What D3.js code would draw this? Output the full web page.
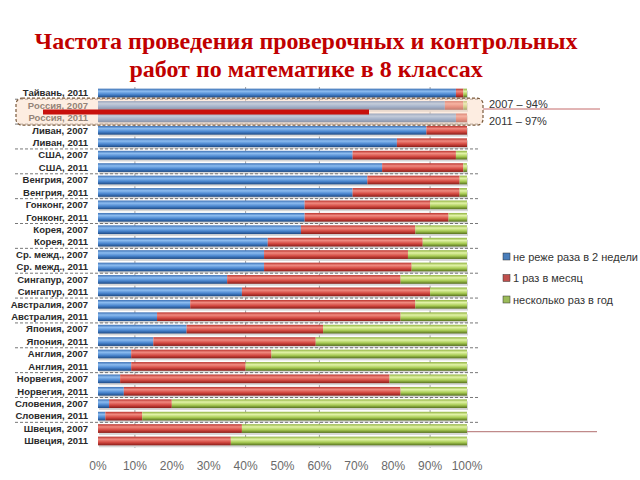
<!DOCTYPE html>
<html>
<head>
<meta charset="utf-8">
<script src="https://d3js.org/d3.v7.min.js"></script>
<style>
  body { margin: 0; background: #fff; }
  .cat text { font: bold 9.5px "Liberation Sans Narrow", "Arial Narrow", sans-serif; fill: #2a2a2a; }
  .xaxis text { font: 12px "Liberation Sans Narrow", "Arial Narrow", sans-serif; fill: #6a6a6a; }
  .legend text { font: 11px "Liberation Sans", Arial, sans-serif; fill: #333; }
</style>
</head>
<body>
<svg id="chart" width="640" height="480"></svg>
<script>
// rows, top to bottom
var labels = ["Тайвань, 2011", "Россия, 2007", "Россия, 2011", "Ливан, 2007", "Ливан, 2011",
  "США, 2007", "США, 2011", "Венгрия, 2007", "Венгрия, 2011", "Гонконг, 2007", "Гонконг, 2011",
  "Корея, 2007", "Корея, 2011", "Ср. межд., 2007", "Ср. межд., 2011", "Сингапур, 2007", "Сингапур, 2011",
  "Австралия, 2007", "Австралия, 2011", "Япония, 2007", "Япония, 2011", "Англия, 2007", "Англия, 2011",
  "Норвегия, 2007", "Норвегия, 2011", "Словения, 2007", "Словения, 2011", "Швеция, 2007", "Швеция, 2011"];

// не реже раза в 2 недели
var biweekly = [97, 94, 97, 89, 81, 69, 77, 73, 69, 56, 56, 55, 46, 45, 45, 35, 39, 25, 16, 24, 15, 9, 9, 6, 7, 3, 2, 0, 0];
// 1 раз в месяц
var monthly = [2, 5, 3, 11, 19, 28, 22, 25, 29, 34, 39, 31, 42, 39, 40, 47, 51, 61, 66, 37, 44, 38, 31, 73, 75, 17, 10, 39, 36];
// несколько раз в год
var yearly = [1, 1, 0, 0, 0, 3, 1, 2, 2, 10, 5, 14, 12, 16, 15, 18, 10, 14, 18, 39, 41, 53, 60, 21, 18, 80, 88, 61, 64];

var seriesNames = ["не реже раза в 2 недели", "1 раз в месяц", "несколько раз в год"];
var xTicks = [0, 10, 20, 30, 40, 50, 60, 70, 80, 90, 100];
var gridTicks = [10, 40, 60, 90];
var titleLines = ["Частота проведения проверочных и контрольных", "работ по математике в 8 классах"];
var russiaNotes = ["2007 – 94%", "2011 – 97%"];

var svg = d3.select("#chart");

var x = d3.scaleLinear().domain([0, 100]).range([98, 467]);
var y = d3.scaleBand().domain(labels).range([86.8, 447.2]).paddingInner(0.3).paddingOuter(0.15);

// gradients for the bar colours
var grads = [
  ["gBlue", "#3b6fb3", "#8cbcf0", "#4a86cf", "#1d4a85"],
  ["gRed", "#b8322c", "#f08a80", "#d44a42", "#8a1c18"],
  ["gGreen", "#8fb13e", "#e2f3a8", "#a9cc55", "#55701c"]
];
var defs = svg.append("defs");
grads.forEach(function(g) {
  var lg = defs.append("linearGradient").attr("id", g[0])
    .attr("x1", 0).attr("y1", 0).attr("x2", 0).attr("y2", 1);
  lg.append("stop").attr("offset", "0%").attr("stop-color", g[1]);
  lg.append("stop").attr("offset", "30%").attr("stop-color", g[2]);
  lg.append("stop").attr("offset", "65%").attr("stop-color", g[3]);
  lg.append("stop").attr("offset", "100%").attr("stop-color", g[4]);
});
var fills = ["url(#gBlue)", "url(#gRed)", "url(#gGreen)"];
var solid = ["#4a7ebb", "#c0504d", "#9bbb59"];

// title
svg.selectAll(".title").data(titleLines).enter().append("text")
  .attr("x", 306).attr("y", function(d, i) { return 49 + i * 28; })
  .attr("text-anchor", "middle")
  .style("font", "bold 24px 'Liberation Serif', 'Times New Roman', serif")
  .style("fill", "#c00000")
  .text(function(d) { return d; });

// grid lines
svg.append("g").selectAll("line").data(gridTicks).enter().append("line")
  .attr("x1", function(d) { return x(d); }).attr("x2", function(d) { return x(d); })
  .attr("y1", 87).attr("y2", 448)
  .attr("stroke", "#8a8a8a").attr("stroke-width", 0.8);

// stacked bars
var stacks = labels.map(function(l, i) {
  return { label: l, vals: [biweekly[i], monthly[i], yearly[i]] };
});
var bh = y.bandwidth();
var rows = svg.append("g").selectAll("g").data(stacks).enter().append("g");
rows.append("rect")
  .attr("x", x(0) + 1).attr("y", function(d) { return y(d.label) + 2; })
  .attr("width", x(100) - x(0)).attr("height", bh)
  .attr("fill", "#d6d6d6");
rows.each(function(d) {
  var g = d3.select(this), acc = 0;
  d.vals.forEach(function(v, k) {
    if (v > 0) {
      g.append("rect")
        .attr("x", x(acc)).attr("y", y(d.label))
        .attr("width", x(acc + v) - x(acc)).attr("height", bh)
        .attr("fill", fills[k]);
    }
    acc += v;
  });
});

// dashed separators between countries
var sepRows = labels.filter(function(d, i) { return i === 0 || (i % 2 === 0 && i < labels.length - 1); });
svg.append("g").selectAll("line").data(sepRows).enter().append("line")
  .attr("x1", 15).attr("x2", 478)
  .attr("y1", function(d) { return y(d) + bh / 2 + y.step() / 2; })
  .attr("y2", function(d) { return y(d) + bh / 2 + y.step() / 2; })
  .attr("stroke", "#555").attr("stroke-width", 0.8).attr("stroke-dasharray", "3,2");

// category labels
svg.append("g").attr("class", "cat").selectAll("text").data(labels).enter().append("text")
  .attr("x", 88).attr("y", function(d) { return y(d) + bh / 2 + 3.3; })
  .attr("text-anchor", "end")
  .text(function(d) { return d; });

// x axis labels
svg.append("g").attr("class", "xaxis").selectAll("text").data(xTicks).enter().append("text")
  .attr("x", function(d) { return x(d); }).attr("y", 470)
  .attr("text-anchor", "middle")
  .text(function(d) { return d + "%"; });

// highlight box for Russia
var ry0 = y("Россия, 2007") - 3, ry1 = y("Россия, 2011") + bh + 3;
svg.append("rect")
  .attr("x", 16).attr("y", ry0).attr("width", 467).attr("height", ry1 - ry0)
  .attr("rx", 6)
  .attr("fill", "#fbdcc4").attr("fill-opacity", 0.5)
  .attr("stroke", "#7a5a3c").attr("stroke-width", 1.2).attr("stroke-dasharray", "3,2");

// red pointer bar and thin lines
svg.append("rect").attr("x", 43).attr("y", 109.5).attr("width", 326).attr("height", 5).attr("fill", "#c8100c");
svg.append("line").attr("x1", 483).attr("x2", 600).attr("y1", 109).attr("y2", 109)
  .attr("stroke", "#c46a6a").attr("stroke-width", 1);
svg.append("line").attr("x1", 467).attr("x2", 597)
  .attr("y1", y("Швеция, 2007") + bh / 2 + 3).attr("y2", y("Швеция, 2007") + bh / 2 + 3)
  .attr("stroke", "#c08a8a").attr("stroke-width", 1.2);

svg.append("g").selectAll("text").data(russiaNotes).enter().append("text")
  .attr("x", 489).attr("y", function(d, i) { return 108 + i * 17; })
  .style("font", "11px 'Liberation Sans Narrow', 'Arial Narrow', sans-serif").style("fill", "#333")
  .text(function(d) { return d; });

// legend
var leg = svg.append("g").attr("class", "legend").selectAll("g").data(seriesNames).enter().append("g")
  .attr("transform", function(d, i) { return "translate(503," + (257 + i * 21.5) + ")"; });
leg.append("rect").attr("x", 0).attr("y", -4).attr("width", 7).attr("height", 7)
  .attr("fill", function(d, i) { return solid[i]; }).attr("stroke", "#333").attr("stroke-width", 0.5);
leg.append("text").attr("x", 10).attr("y", 3.5).text(function(d) { return d; });
</script>
</body>
</html>
